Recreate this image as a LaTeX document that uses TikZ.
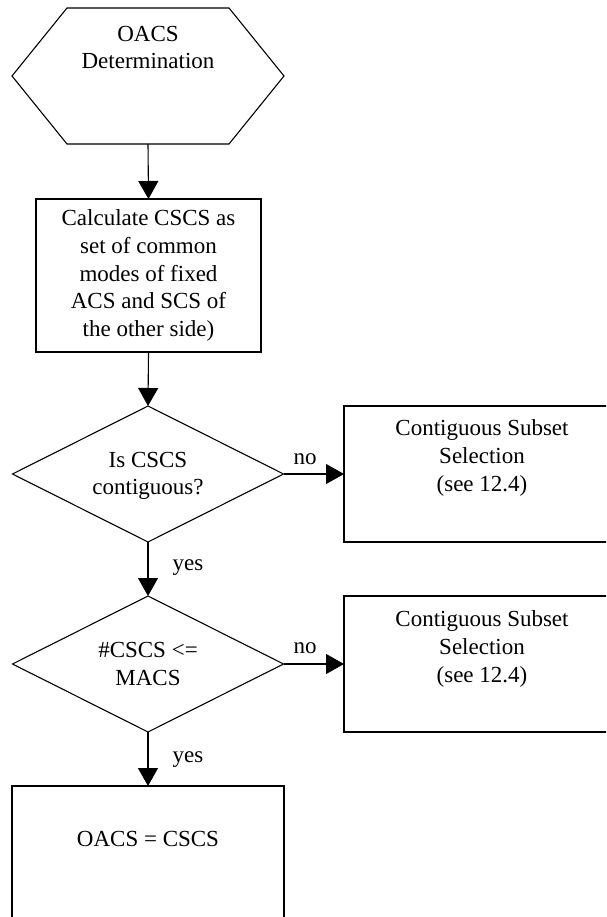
\documentclass[tikz,border=0pt]{standalone}
\usepackage{fontspec}
\setmainfont{Liberation Serif}
\usetikzlibrary{shapes.geometric,arrows.meta,calc}
\begin{document}
\begin{tikzpicture}[x=1pt,y=-1pt,
  line width=1.1pt,
  txt/.style={font=\fontsize{23}{27.7}\selectfont, align=center, inner sep=0pt},
  boxnode/.style={draw, rectangle, inner sep=0pt, outer sep=0pt},
  dia/.style={draw, diamond, inner sep=0pt, outer sep=0pt, minimum width=271pt, minimum height=136pt},
  arr/.style={-{Triangle[length=18pt,width=20pt]}},
]
\useasboundingbox (0,0) rectangle (606,917);
\clip (0,0) rectangle (606,917);

% hexagon
\node[inner sep=0pt, outer sep=0pt, minimum width=272pt, minimum height=136pt] (hex) at (148,76) {};
\draw (hex.west) -- ($(hex.north west)+(55,0)$) -- ($(hex.north east)+(-55,0)$) -- (hex.east)
      -- ($(hex.south east)+(-55,0)$) -- ($(hex.south west)+(55,0)$) -- cycle;
\node[txt] (hext) at (148,47.5) {OACS\\Determination};

% box 1
\node[boxnode, txt, minimum width=225pt, minimum height=153pt] (b1) at (148.5,275.5)
  {Calculate CSCS as\\set of common\\modes of fixed\\ACS and SCS of\\the other side)};

% diamond 1
\node[dia] (d1) at (148,474) {};
\node[txt] (d1t) at (148,476) {Is CSCS\\contiguous?};

% box 2
\node[boxnode, minimum width=276pt, minimum height=136pt] (b2) at (482,474) {};
\node[txt] (b2t) at (482,458) {Contiguous Subset\\Selection\\(see 12.4)};

% diamond 2
\node[dia] (d2) at (148,664) {};
\node[txt] (d2t) at (148,664) {\#CSCS <=\\MACS};

% box 3
\node[boxnode, minimum width=276pt, minimum height=136pt] (b3) at (482,664) {};
\node[txt] (b3t) at (482,649) {Contiguous Subset\\Selection\\(see 12.4)};

% box 4
\node[boxnode, minimum width=272pt, minimum height=136pt] (b4) at (148,854) {};
\node[txt] (b4t) at (148,839) {OACS = CSCS};

% labels
\node[txt] (no1) at (305,459) {no};
\node[txt] (no2) at (305,648) {no};
\node[txt] (yes1) at (188,568) {yes};
\node[txt] (yes2) at (188,760) {yes};

% connectors
\draw[arr] (hex.south) -- (b1.north);
\draw[arr] (b1.south) -- (d1.north);
\draw[arr] (d1.east) -- (b2.west);
\draw[arr] (d1.south) -- (d2.north);
\draw[arr] (d2.east) -- (b3.west);
\draw[arr] (d2.south) -- (b4.north);
\end{tikzpicture}
\end{document}
